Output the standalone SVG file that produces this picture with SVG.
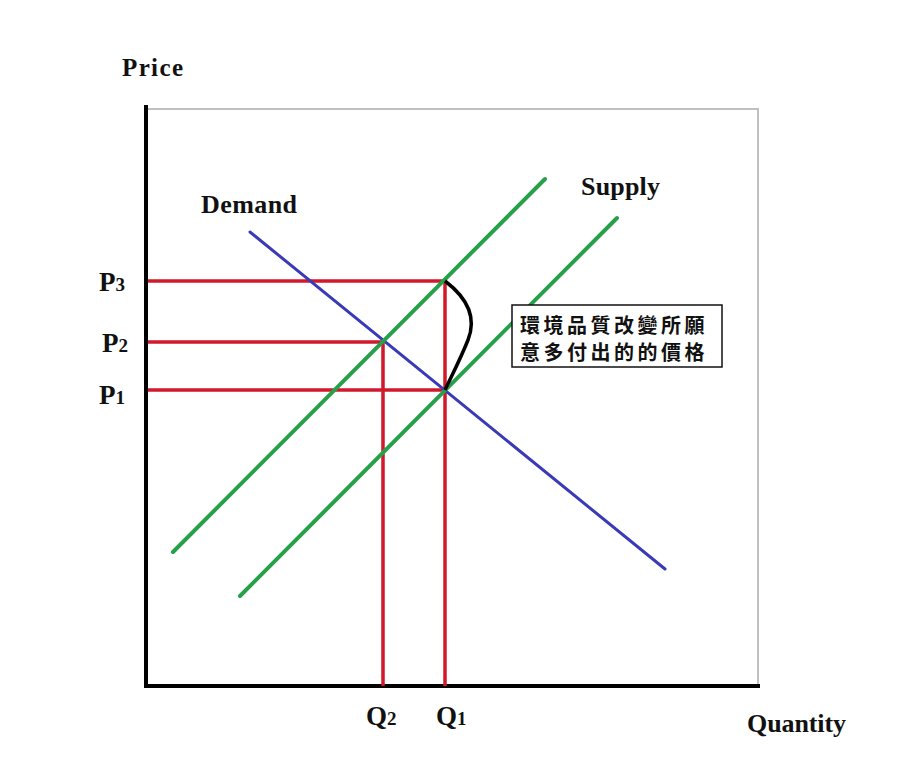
<svg xmlns="http://www.w3.org/2000/svg" width="908" height="771" viewBox="0 0 908 771">
<style>
.lbl{font-family:"Liberation Serif","Times New Roman",serif;font-weight:bold;fill:#111;}
.sub{font-size:19px;}
.red{stroke:#d2182b;stroke-width:3.5;fill:none;}
.green{stroke:#27a04a;stroke-width:4;stroke-linecap:round;fill:none;}
.blue{stroke:#3a3ab8;stroke-width:3;stroke-linecap:round;fill:none;}
.axis{stroke:#000;stroke-width:4;fill:none;}
.cjk{font-family:"Noto Sans CJK TC","Noto Sans CJK SC",sans-serif;font-weight:bold;font-size:20px;fill:#111;letter-spacing:3.5px;}
</style>
<rect width="908" height="771" fill="#fff"/>
<g id="frame">
<polyline points="146,109 758,109 758,686" fill="none" stroke="#c0c0c0" stroke-width="2"/>
</g>
<g id="axes">
<line class="axis" x1="146" y1="105" x2="146" y2="688"/>
<line class="axis" x1="144" y1="686" x2="760" y2="686"/>
</g>
<g id="connectors">
<line class="red" x1="148" y1="281" x2="445" y2="281"/>
<line class="red" x1="148" y1="342" x2="383" y2="342"/>
<line class="red" x1="148" y1="390" x2="445" y2="390"/>
<line class="red" x1="383" y1="342" x2="383" y2="686"/>
<line class="red" x1="445" y1="281" x2="445" y2="686"/>
</g>
<g id="demand">
<line class="blue" x1="250" y1="232" x2="665" y2="569"/>
<text class="lbl" x="201" y="213" font-size="26" textLength="96">Demand</text>
</g>
<g id="supply1">
<line class="green" x1="173" y1="552" x2="545" y2="179"/>
</g>
<g id="supply2">
<line class="green" x1="240" y1="596" x2="617" y2="218"/>
<text class="lbl" x="581" y="195" font-size="26" textLength="79">Supply</text>
</g>
<g id="brace">
<path d="M445,281 C470,300 476,320 468,340 C460,360 452,375 445,390" fill="none" stroke="#000" stroke-width="3.5"/>
</g>
<g id="note">
<rect x="512" y="305" width="210" height="62" fill="#fff" stroke="#111" stroke-width="1.5"/>
<text class="cjk" x="520" y="333">環境品質改變所願</text>
<text class="cjk" x="520" y="360">意多付出的的價格</text>
</g>
<g id="labels">
<text class="lbl" x="122" y="76" font-size="25" textLength="61">Price</text>
<text class="lbl" x="747" y="732" font-size="26" textLength="99">Quantity</text>
<text class="lbl" x="99" y="291" font-size="27">P<tspan class="sub">3</tspan></text>
<text class="lbl" x="102" y="352" font-size="27">P<tspan class="sub">2</tspan></text>
<text class="lbl" x="99" y="404" font-size="27">P<tspan class="sub">1</tspan></text>
<text class="lbl" x="366" y="725" font-size="27">Q<tspan class="sub">2</tspan></text>
<text class="lbl" x="436" y="725" font-size="27">Q<tspan class="sub">1</tspan></text>
</g>
</svg>
